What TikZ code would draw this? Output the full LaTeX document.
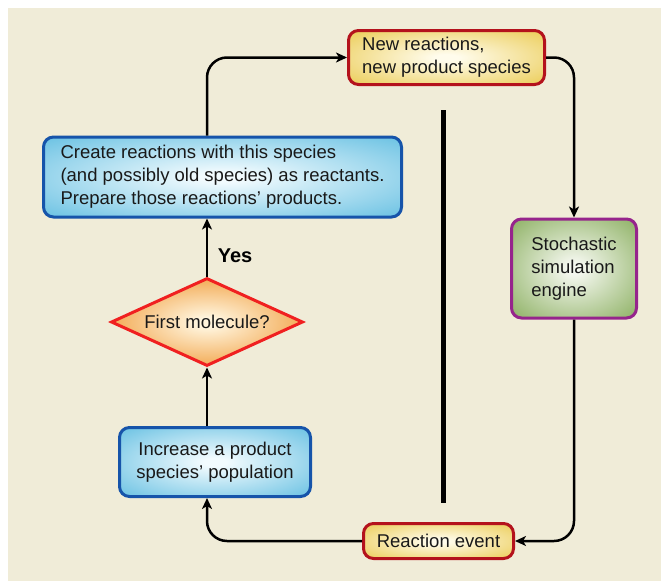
\documentclass[tikz,border=0pt]{standalone}
\usepackage{fontspec}
\setmainfont{Liberation Sans}
\usetikzlibrary{shapes.geometric,arrows.meta,calc}
\definecolor{bg}{RGB}{240,236,216}
\definecolor{blueb}{RGB}{22,84,170}
\definecolor{bluef}{RGB}{112,196,228}
\definecolor{bluei}{RGB}{242,251,254}
\definecolor{redb}{RGB}{180,18,28}
\definecolor{yelf}{RGB}{236,206,92}
\definecolor{yeli}{RGB}{255,252,236}
\definecolor{purb}{RGB}{150,36,140}
\definecolor{grnf}{RGB}{146,180,106}
\definecolor{grni}{RGB}{244,247,238}
\definecolor{dred}{RGB}{240,32,32}
\definecolor{orf}{RGB}{240,156,58}
\definecolor{ori}{RGB}{255,244,220}
\definecolor{txt}{RGB}{25,25,25}
\pgfdeclareradialshading{blueshade}{\pgfpoint{0bp}{0bp}}{color(0bp)=(bluei); color(3bp)=(bluei); color(34bp)=(bluef); color(75bp)=(bluef)}
\pgfdeclareradialshading{yelshade}{\pgfpoint{0bp}{0bp}}{color(0bp)=(yeli); color(3bp)=(yeli); color(34bp)=(yelf); color(75bp)=(yelf)}
\pgfdeclareradialshading{grnshade}{\pgfpoint{0bp}{0bp}}{color(0bp)=(grni); color(3bp)=(grni); color(34bp)=(grnf); color(75bp)=(grnf)}
\pgfdeclareradialshading{orshade}{\pgfpoint{0bp}{0bp}}{color(0bp)=(ori); color(3bp)=(ori); color(30bp)=(orf); color(75bp)=(orf)}
\tikzset{
  box/.style={rectangle, rounded corners=10pt, line width=3pt, inner sep=0pt,
    text=txt, font=\fontsize{18.5}{23}\selectfont},
  bluebox/.style={box, draw=blueb, shading=blueshade},
  yelbox/.style={box, draw=redb, shading=yelshade},
  grnbox/.style={box, draw=purb, shading=grnshade},
  decide/.style={diamond, aspect=2.2, draw=dred, line width=3pt, inner sep=0pt,
    shading=orshade, text=txt, font=\fontsize{18.5}{23}\selectfont},
  arr/.style={line width=2.5pt, -{Stealth[length=11pt,width=10pt,inset=3pt]}, rounded corners=20pt},
}
\begin{document}
\begin{tikzpicture}[x=1pt,y=-1pt]
\useasboundingbox (0,0) rectangle (661,581);
\fill[bg] (8,8) rectangle (661,581);

\node[yelbox, minimum width=196pt, minimum height=54pt, align=left] (newr) at (446.5,57.5)
  {New reactions,\\new product species};
\node[bluebox, minimum width=358pt, minimum height=80pt, align=left] (create) at (222.5,177)
  {Create reactions with this species\\(and possibly old species) as reactants.\\Prepare those reactions’ products.};
\node[grnbox, minimum width=125pt, minimum height=99pt, align=left] (stoch) at (574,268.5)
  {Stochastic\\simulation\\engine};
\node[decide, minimum width=192pt, minimum height=88pt] (dia) at (207,322) {First molecule?};
\node[bluebox, minimum width=191pt, minimum height=69pt, align=center] (incr) at (215,462)
  {Increase a product\\species’ population};
\node[yelbox, minimum width=150pt, minimum height=35pt] (react) at (438.5,541) {Reaction event};

\node[font=\fontsize{20}{23}\selectfont\bfseries, text=black] (yes) at (235,256) {Yes};

\coordinate (bartop) at (443.5,110);
\coordinate (barbot) at (443.5,503);
\draw[line width=5.5pt] (bartop) -- (barbot);

\draw[arr] (dia |- create.north) |- (newr.west);
\draw[arr] (newr.east) -| (stoch.north);
\draw[arr] (stoch.south) |- (react.east);
\draw[arr] (react.west) -| (dia |- incr.south);
\draw[arr, rounded corners=0pt] (dia |- incr.north) -- (dia.south);
\draw[arr, rounded corners=0pt] (dia.north) -- (dia |- create.south);
\end{tikzpicture}
\end{document}
